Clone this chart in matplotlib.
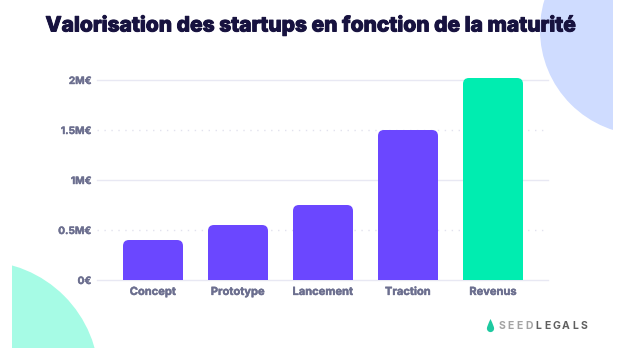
import matplotlib
matplotlib.use("Agg")
import matplotlib.pyplot as plt
import matplotlib.patheffects as pe
from matplotlib.path import Path
from matplotlib.patches import PathPatch, Circle, Rectangle

categories = ['Concept', 'Prototype', 'Lancement', 'Traction', 'Revenus']
values = [0.40, 0.55, 0.75, 1.50, 2.02]
bar_colors = ['#6b47ff', '#6b47ff', '#6b47ff', '#6b47ff', '#00edb0']
ytick_values = [0, 0.5, 1, 1.5, 2]
ytick_labels = ['0€', '0.5M€', '1M€', '1.5M€', '2M€']
title = 'Valorisation des startups en fonction de la maturité'

W, H = 630, 363
fig = plt.figure(figsize=(W / 100, H / 100), dpi=100)
fig.patch.set_facecolor('white')
FAM = ['Inter', 'DejaVu Sans']

def px(x, y):
    return (x / 100, (H - y) / 100)

# decorative circles clipped to inner frame
clip = Rectangle(px(12, 348), (613 - 12) / 100, 348 / 100,
                 transform=fig.dpi_scale_trans, facecolor='none', edgecolor='none')
fig.patches.append(clip)
c1 = Circle(px(645, 30), 1.05, transform=fig.dpi_scale_trans, facecolor='#cfdcff',
            edgecolor='none', zorder=0)
c2 = Circle(px(-20, 380), 1.19, transform=fig.dpi_scale_trans, facecolor='#a6fbe5',
            edgecolor='none', zorder=0)
for c in (c1, c2):
    c.set_clip_path(clip)
    fig.patches.append(c)

ax = fig.add_axes([97 / W, 83 / H, (548 - 97) / W, 210 / H])
ax.set_facecolor('none')
ax.set_xlim(-56 / 85, 4 + 55 / 85)
ax.set_ylim(0, 2.1)
for s in ax.spines.values():
    s.set_visible(False)

for v in ytick_values:
    if float(v).is_integer():
        ax.axhline(v, color='#e8e8f3', lw=1.0, zorder=0, clip_on=False)
    else:
        ax.axhline(v, color='#e2e2ee', lw=1.0, ls=(0, (1, 4)), zorder=0, clip_on=False)

# rounded-top bars
rx, ry = 6 / 85, 6 / 100
hw = 30 / 85
for i, (v, col) in enumerate(zip(values, bar_colors)):
    x0, x1 = i - hw, i + hw
    verts = [(x0, 0), (x0, v - ry), (x0, v), (x0 + rx, v), (x1 - rx, v), (x1, v),
             (x1, v - ry), (x1, 0), (x0, 0)]
    codes = [Path.MOVETO, Path.LINETO, Path.CURVE3, Path.CURVE3, Path.LINETO,
             Path.CURVE3, Path.CURVE3, Path.LINETO, Path.CLOSEPOLY]
    ax.add_patch(PathPatch(Path(verts, codes), facecolor=col, edgecolor='none', zorder=2))

ax.set_yticks(ytick_values)
ax.set_yticklabels(ytick_labels)
ax.set_xticks(range(len(categories)))
ax.set_xticklabels(categories)
ax.tick_params(axis='both', length=0, colors='#6c6f8f')
ax.tick_params(axis='y', pad=4)
ax.tick_params(axis='x', pad=5)
thin = [pe.withStroke(linewidth=0.3, foreground='#6c6f8f')]
for lab in ax.get_yticklabels():
    lab.set_fontfamily(FAM); lab.set_fontweight('bold'); lab.set_fontsize(7.3)
    lab.set_path_effects(thin)
for lab in ax.get_xticklabels():
    lab.set_fontfamily(FAM); lab.set_fontweight('bold'); lab.set_fontsize(8.0)
    lab.set_path_effects(thin)

# title, fit to width
t = fig.text(311 / W, 1 - 25 / H, title, ha='center', va='center', family=FAM,
             fontweight='heavy', fontsize=12, color='#17123f',
             path_effects=[pe.withStroke(linewidth=0.7, foreground='#17123f')])
fig.canvas.draw()
w = t.get_window_extent().width
t.set_fontsize(12 * 530 / w)

# logo
letters = 'SEEDLEGALS'
for i, ch in enumerate(letters):
    fig.text((501.5 + i * 9.2) / W, 1 - 326 / H, ch, ha='center', va='center',
             family=FAM, fontweight='bold', fontsize=7.5,
             color='#a3a3a3' if i < 4 else '#5f5f5f')
# droplet
cx, cy, r = 490.5, 328.5, 3.6
k = 0.5523
dv = [(cx, cy - 9.5), (cx + r * 0.6, cy - 5), (cx + r, cy - 1.5), (cx + r, cy),
      (cx + r, cy + r * k), (cx + r * k, cy + r), (cx, cy + r),
      (cx - r * k, cy + r), (cx - r, cy + r * k), (cx - r, cy),
      (cx - r, cy - 1.5), (cx - r * 0.6, cy - 5), (cx, cy - 9.5), (cx, cy - 9.5)]
dv = [px(a, b) for a, b in dv]
dc = [Path.MOVETO, Path.CURVE4, Path.CURVE4, Path.CURVE4, Path.CURVE4, Path.CURVE4,
      Path.CURVE4, Path.CURVE4, Path.CURVE4, Path.CURVE4, Path.CURVE4, Path.CURVE4,
      Path.CURVE4, Path.CLOSEPOLY]
fig.patches.append(PathPatch(Path(dv, dc), transform=fig.dpi_scale_trans,
                             facecolor='#1ec9a0', edgecolor='none'))

fig.savefig('out.png', dpi=100, facecolor='white')
